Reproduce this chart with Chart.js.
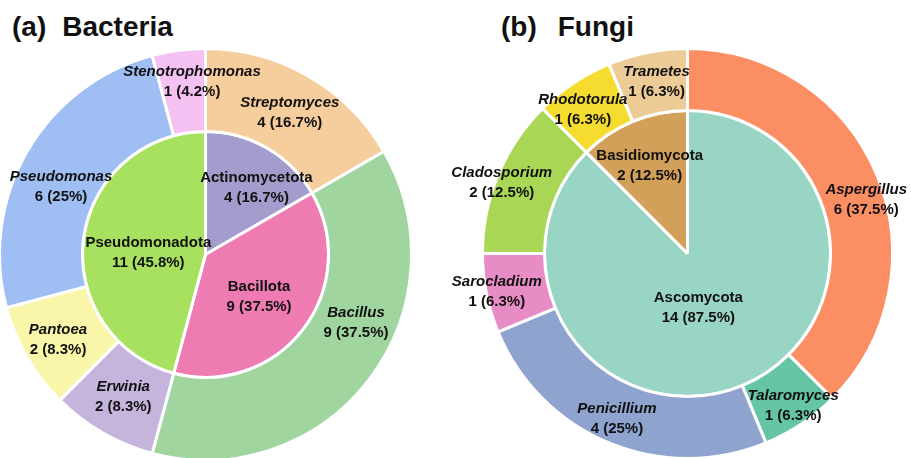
<!DOCTYPE html>
<html>
<head>
<meta charset="utf-8">
<script src="https://cdn.jsdelivr.net/npm/chart.js@4"></script>
<style>
  html, body { margin: 0; padding: 0; background: #fff; }
  body { width: 911px; height: 458px; position: relative; overflow: hidden; }
  .title {
    position: absolute; top: 13px;
    font: bold 28px 'Liberation Sans', Arial, sans-serif;
    line-height: 28px; color: #111; white-space: pre;
  }
  .title .name { margin-left: 16px; }
  canvas { position: absolute; }
</style>
</head>
<body>
<div class="title" style="left:12px"><span>(a)</span><span class="name">Bacteria</span></div>
<div class="title" style="left:501px"><span>(b)</span><span class="name" style="margin-left:21px">Fungi</span></div>
<canvas id="bacteria" width="443" height="470" style="left:-2px; top:0"></canvas>
<canvas id="fungi" width="470" height="470" style="left:441px; top:0"></canvas>

<script>
// Nested pies: outer ring = genus, inner pie = phylum.

// ── Data ──────────────────────────────────────────────────────
const bacteriaGenera       = ['Streptomyces', 'Bacillus', 'Erwinia', 'Pantoea', 'Pseudomonas', 'Stenotrophomonas'];
const bacteriaGenusCounts  = [4, 9, 2, 2, 6, 1];
const bacteriaPhyla        = ['Actinomycetota', 'Bacillota', 'Pseudomonadota'];
const bacteriaPhylumCounts = [4, 9, 11];

const fungiGenera          = ['Aspergillus', 'Talaromyces', 'Penicillium', 'Sarocladium', 'Cladosporium', 'Rhodotorula', 'Trametes'];
const fungiGenusCounts     = [6, 1, 4, 1, 2, 1, 1];
const fungiPhyla           = ['Ascomycota', 'Basidiomycota'];
const fungiPhylumCounts    = [14, 2];

// ── Colours ───────────────────────────────────────────────────
const bacteriaGenusColors  = ['#f6cd9d', '#a0d5a0', '#c5b5dc', '#f9f6aa', '#9ebef4', '#f5c0f2'];
const bacteriaPhylumColors = ['#a29dcc', '#ef7bb3', '#a8e15f'];
const fungiGenusColors     = ['#fc8e64', '#66c5a6', '#8fa3cf', '#e78cc5', '#a9d755', '#f5dc2f', '#eccb97'];
const fungiPhylumColors    = ['#99d5c5', '#d3a05a'];

// Small nudges (px) so labels sit where the original placed them
const bacteriaGenusNudge   = [[2, 1], [20, -32], [0, 0], [-5, 3], [-2, 15], [8, -10]];
const bacteriaPhylumNudge  = [[14, -3], [-5, -3], [16, 8]];
const fungiGenusNudge      = [[18, 13], [9, 8], [-4, 5], [-20, 4], [-25, -4], [-8, 1], [3, -1]];
const fungiPhylumNudge     = [[-22, -25], [-5, -8]];

const FONT = "'Liberation Sans', Arial, sans-serif";

function pctText(v, total) {
  return `${v} (${parseFloat((v / total * 100).toFixed(1))}%)`;
}

// ── Label plugin ──────────────────────────────────────────────
const ringLabels = {
  id: 'ringLabels',
  afterDatasetsDraw(chart) {
    const ctx = chart.ctx;
    ctx.save();
    ctx.textAlign = 'center';
    ctx.textBaseline = 'middle';
    ctx.fillStyle = '#111';
    chart.data.datasets.forEach((ds, di) => {
      const meta  = chart.getDatasetMeta(di);
      const total = ds.data.reduce((a, b) => a + b, 0);
      meta.data.forEach((arc, i) => {
        const p   = arc.getProps(['x', 'y', 'startAngle', 'endAngle', 'innerRadius', 'outerRadius'], true);
        const mid = (p.startAngle + p.endAngle) / 2;
        const r   = p.innerRadius + (p.outerRadius - p.innerRadius) * ds.labelFrac;
        const [nx, ny] = ds.nudge[i];
        const x = p.x + Math.cos(mid) * r + nx;
        const y = p.y + Math.sin(mid) * r + ny;
        ctx.font = `${ds.italic ? 'italic ' : ''}bold 15px ${FONT}`;
        ctx.fillText(ds.labels[i], x, y - 10);
        ctx.font = `bold 15px ${FONT}`;
        ctx.fillText(pctText(ds.data[i], total), x, y + 10);
      });
    });
    ctx.restore();
  }
};

function nestedPie(id, genera, genusCounts, genusColors, genusNudge,
                   phyla, phylumCounts, phylumColors, phylumNudge, ringW, pieW, padding) {
  return new Chart(document.getElementById(id).getContext('2d'), {
    type: 'doughnut',
    data: {
      datasets: [
        {
          data:            genusCounts,
          labels:          genera,
          backgroundColor: genusColors,
          borderColor:     '#fff',
          borderWidth:     3,
          weight:          ringW,
          labelFrac:       0.5,
          italic:          true,
          nudge:           genusNudge
        },
        {
          data:            phylumCounts,
          labels:          phyla,
          backgroundColor: phylumColors,
          borderColor:     '#fff',
          borderWidth:     3,
          weight:          pieW,
          labelFrac:       0.6,
          italic:          false,
          nudge:           phylumNudge
        }
      ]
    },
    options: {
      responsive:       false,
      animation:        false,
      devicePixelRatio: 1,
      cutout:           0,
      events:           [],
      layout:           { padding },
      plugins: {
        legend:  { display: false },
        tooltip: { enabled: false }
      }
    },
    plugins: [ringLabels]
  });
}

nestedPie('bacteria', bacteriaGenera, bacteriaGenusCounts, bacteriaGenusColors, bacteriaGenusNudge,
          bacteriaPhyla, bacteriaPhylumCounts, bacteriaPhylumColors, bacteriaPhylumNudge, 83, 123,
          { left: 0, top: 47, right: 28, bottom: 8 });

nestedPie('fungi', fungiGenera, fungiGenusCounts, fungiGenusColors, fungiGenusNudge,
          fungiPhyla, fungiPhylumCounts, fungiPhylumColors, fungiPhylumNudge, 62, 143,
          { left: 40, top: 47, right: 17, bottom: 10 });
</script>
</body>
</html>
